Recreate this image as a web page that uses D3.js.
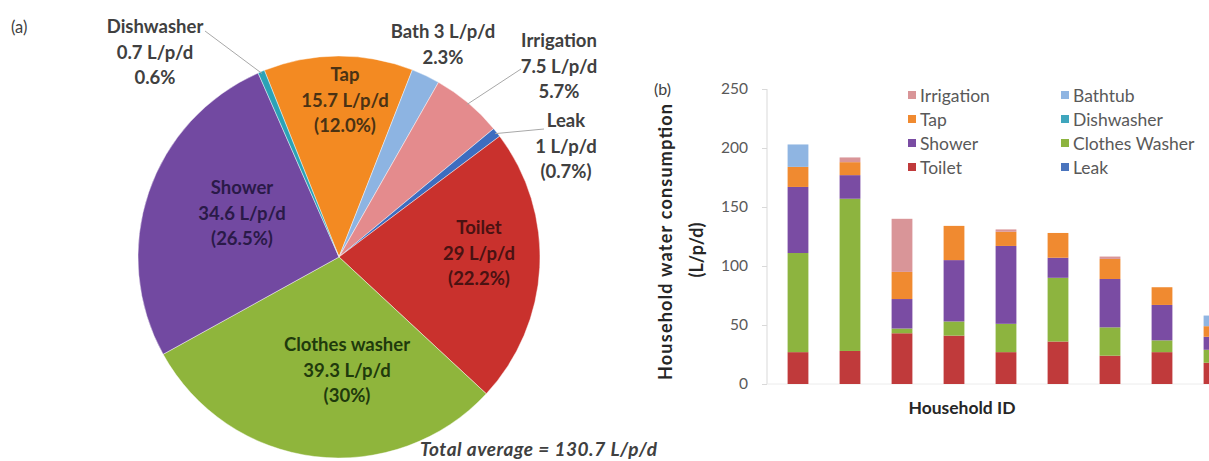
<!DOCTYPE html>
<html>
<head>
<meta charset="utf-8">
<script src="https://cdn.jsdelivr.net/npm/d3@7/dist/d3.min.js"></script>
<style>
  html, body { margin: 0; padding: 0; background: #fff; }
  svg { display: block; font-family: Lato, "Liberation Sans", sans-serif; }
</style>
</head>
<body>
<svg id="chart" width="1209" height="461"></svg>
<script>
// ---- Panel (a): average end-use breakdown (L/p/d) ----
const pieUses   = ["Tap", "Bath", "Irrigation", "Leak", "Toilet", "Clothes washer", "Shower", "Dishwasher"];
const pieValues = [15.7, 3, 7.5, 1, 29, 39.3, 34.6, 0.7];
const piePct    = ["(12.0%)", "2.3%", "5.7%", "(0.7%)", "(22.2%)", "(30%)", "(26.5%)", "0.6%"];
const pieColors = ["#f38a22", "#8db4e2", "#e48b8d", "#3d6dc0", "#c9312d", "#8fb53c", "#7249a1", "#2ba2b6"];
const pieInkColors = ["#4a3214", "#404040", "#404040", "#404040", "#4a1212", "#1f3a0c", "#2a1a48", "#404040"];
const totalText = "Total average = 130.7 L/p/d";

// ---- Panel (b): per-household stacked consumption (L/p/d) ----
const households = ["H1", "H2", "H3", "H4", "H5", "H6", "H7", "H8", "H9"];
const stackKeys  = ["Leak", "Toilet", "Clothes Washer", "Shower", "Dishwasher", "Tap", "Bathtub", "Irrigation"];
const leak          = [0, 0, 0, 0, 0, 0, 0, 0, 0];
const toilet        = [27, 28, 43, 41, 27, 36, 24, 27, 18];
const clothesWasher = [84, 129, 4, 12, 24, 54, 24, 10, 11];
const shower        = [56, 20, 25, 52, 66, 17, 41, 30, 11];
const dishwasher    = [0, 0, 0, 0, 0, 0, 0, 0, 0];
const tap           = [17, 11, 23, 29, 12, 21, 17, 15, 9];
const bathtub       = [19, 0, 0, 0, 0, 0, 0, 0, 9];
const irrigation    = [0, 4, 45, 0, 2, 0, 2, 0, 0];
const barColors = {
  "Leak": "#4a74bd", "Toilet": "#c03a3b", "Clothes Washer": "#8db43f", "Shower": "#7a4ca3",
  "Dishwasher": "#3fa6bd", "Tap": "#f08a30", "Bathtub": "#8fb5e2", "Irrigation": "#d99598"
};
const legendOrder = ["Irrigation", "Bathtub", "Tap", "Dishwasher", "Shower", "Clothes Washer", "Toilet", "Leak"];
const yTicks = [0, 50, 100, 150, 200, 250];

const svg = d3.select("#chart");
const deg = Math.PI / 180;

// ================= Pie =================
const cx = 339, cy = 257, R = 201;
const pie = d3.pie().sort(null).startAngle(-21.8 * deg).endAngle(338.2 * deg);
const arcs = pie(pieValues);
const arc = d3.arc().innerRadius(0).outerRadius(R);
const gPie = svg.append("g").attr("transform", `translate(${cx},${cy})`);

gPie.selectAll("path").data(arcs).join("path")
  .attr("d", arc)
  .attr("fill", (d, i) => pieColors[i])
  .attr("stroke", "rgba(255,255,255,0.55)")
  .attr("stroke-width", 0.8);

svg.append("text").attr("x", 11).attr("y", 27)
  .attr("dominant-baseline", "central")
  .attr("font-size", 16.5).attr("fill", "#404040").text("(a)");

// centre of the first line of each slice label
const labelPos = {
  "Tap": { x: 345, y: 74 },
  "Bath": { x: 443, y: 31 },
  "Irrigation": { x: 559, y: 40 },
  "Leak": { x: 566, y: 120 },
  "Toilet": { x: 479, y: 227 },
  "Clothes washer": { x: 347, y: 344 },
  "Shower": { x: 242, y: 187 },
  "Dishwasher": { x: 155, y: 26 }
};
const lineGap = 25.5;

function valueText(i) { return `${pieValues[i]} L/p/d`; }

pieUses.forEach((name, i) => {
  const p = labelPos[name];
  const lines = name === "Bath"
    ? [`Bath ${valueText(i)}`, piePct[i]]
    : [name, valueText(i), piePct[i]];
  const t = svg.append("text")
    .attr("text-anchor", "middle")
    .attr("font-size", 18.5).attr("font-weight", 700)
    .attr("fill", pieInkColors[i]);
  lines.forEach((s, k) => {
    t.append("tspan").attr("x", p.x).attr("y", p.y + k * lineGap)
      .attr("dominant-baseline", "central").text(s);
  });
});

// leader lines for the small outside-labelled slices
function edgePoint(i, r) {
  const a = (arcs[i].startAngle + arcs[i].endAngle) / 2;
  return [cx + r * Math.sin(a), cy - r * Math.cos(a)];
}
const leaders = [
  { i: 7, to: [205, 31] },
  { i: 2, to: [521, 69] },
  { i: 3, to: [544, 129] }
];
leaders.forEach(l => {
  const [x0, y0] = edgePoint(l.i, R - 2);
  svg.append("line")
    .attr("x1", x0).attr("y1", y0).attr("x2", l.to[0]).attr("y2", l.to[1])
    .attr("stroke", "#a8a8a8").attr("stroke-width", 1);
});

svg.append("text").attr("x", 420).attr("y", 448)
  .attr("dominant-baseline", "central")
  .attr("font-size", 19).attr("font-weight", 700).attr("font-style", "italic")
  .attr("fill", "#404040")
  .attr("textLength", 237).attr("lengthAdjust", "spacing")
  .text(totalText);

// ================= Stacked bars =================
const series = { "Leak": leak, "Toilet": toilet, "Clothes Washer": clothesWasher, "Shower": shower,
  "Dishwasher": dishwasher, "Tap": tap, "Bathtub": bathtub, "Irrigation": irrigation };
const rows = households.map((h, j) => {
  const r = { id: h };
  stackKeys.forEach(k => r[k] = series[k][j]);
  return r;
});
const stacked = d3.stack().keys(stackKeys)(rows);

const axisX = 767;
const x = d3.scaleBand().domain(households).range([772, 772 + 9 * 52]).paddingInner(0.6).paddingOuter(0.3);
const y = d3.scaleLinear().domain([0, 250]).range([384, 89]);

// axis lines
svg.append("line").attr("x1", axisX).attr("x2", axisX).attr("y1", y(0)).attr("y2", y(250))
  .attr("stroke", "#d9d9d9");
svg.append("line").attr("x1", axisX).attr("x2", 1209).attr("y1", y(0)).attr("y2", y(0))
  .attr("stroke", "#ececec");

const yAxis = d3.axisLeft(y).tickValues(yTicks).tickSize(5).tickPadding(14);
const gy = svg.append("g").attr("transform", `translate(${axisX},0)`).call(yAxis);
gy.select(".domain").remove();
gy.selectAll(".tick line").attr("stroke", "#d9d9d9");
gy.selectAll(".tick text").attr("font-family", "Lato, sans-serif").attr("font-size", 15.5).attr("fill", "#595959");

svg.append("g").selectAll("g").data(stacked).join("g")
  .attr("fill", d => barColors[d.key])
  .selectAll("rect").data(d => d).join("rect")
  .attr("x", d => x(d.data.id))
  .attr("width", x.bandwidth())
  .attr("y", d => y(d[1]))
  .attr("height", d => y(d[0]) - y(d[1]));

// axis titles
svg.append("text").attr("transform", "translate(665,242) rotate(-90)")
  .attr("text-anchor", "middle").attr("dominant-baseline", "central")
  .attr("font-size", 18).attr("font-weight", 700).attr("fill", "#262626")
  .attr("textLength", 276).attr("lengthAdjust", "spacing")
  .text("Household water consumption");
svg.append("text").attr("transform", "translate(696,250) rotate(-90)")
  .attr("text-anchor", "middle").attr("dominant-baseline", "central")
  .attr("font-size", 18).attr("font-weight", 700).attr("fill", "#262626")
  .text("(L/p/d)");
svg.append("text").attr("x", 962).attr("y", 407)
  .attr("text-anchor", "middle").attr("dominant-baseline", "central")
  .attr("font-size", 17.5).attr("font-weight", 700).attr("fill", "#262626")
  .text("Household ID");
svg.append("text").attr("x", 654).attr("y", 88)
  .attr("dominant-baseline", "central")
  .attr("font-size", 16).attr("fill", "#404040").text("(b)");

// legend (two columns, row-major)
const leg = svg.append("g");
legendOrder.forEach((k, i) => {
  const col = i % 2, row = Math.floor(i / 2);
  const lx = col === 0 ? 908 : 1061, ly = 95 + row * 24;
  leg.append("rect").attr("x", lx).attr("y", ly - 4).attr("width", 8).attr("height", 8)
    .attr("fill", barColors[k]);
  leg.append("text").attr("x", lx + 12).attr("y", ly)
    .attr("dominant-baseline", "central")
    .attr("font-size", 17.5).attr("fill", "#595959").text(k);
});
</script>
</body>
</html>
